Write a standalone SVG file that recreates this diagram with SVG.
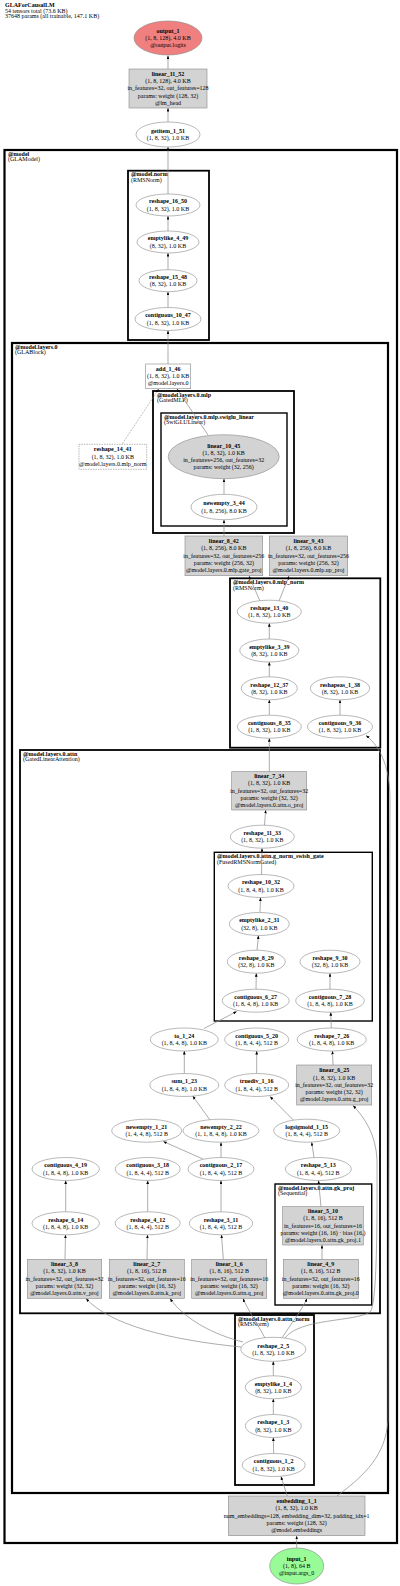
<svg xmlns="http://www.w3.org/2000/svg" width="400" height="1586" viewBox="0 0 400 1586">
<style>
text{font-family:"Liberation Serif","Times New Roman",serif;font-size:6px;fill:#000;text-anchor:middle}
.b{font-weight:bold}
.l{text-anchor:start}
.n{fill:#fff;stroke:#888;stroke-width:0.6}
.g{fill:#d3d3d3;stroke:#888;stroke-width:0.6}
.c{fill:none;stroke:#000}
.c1{stroke-width:2.2}.c2{stroke-width:1.8}.c3{stroke-width:1.4}
.e{fill:none;stroke:#888;stroke-width:0.7;marker-end:url(#a)}
</style>
<defs>
<marker id="a" viewBox="0 0 10 8" refX="10" refY="4" markerWidth="3.5" markerHeight="2.8" markerUnits="userSpaceOnUse" orient="auto"><path d="M0,0 L10,4 L0,8 z" fill="#000"/></marker>
</defs>
<rect width="400" height="1586" fill="#fff"/>
<g id="header">
<text class="l b" x="5" y="7">GLAForCausalLM</text>
<text class="l" x="5" y="12.5">54 tensors total (73.6 KB)</text>
<text class="l" x="5" y="18">37648 params (all trainable, 147.1 KB)</text>
</g>
<g id="clusters">
<rect class="c c1" x="4.5" y="150" width="392.5" height="1393"/>
<text class="l b" x="8" y="155.6">@model</text><text class="l" x="8" y="161.3">(GLAModel)</text>
<rect class="c c2" x="128" y="170.7" width="81" height="169.3"/>
<text class="l b" x="131" y="176.3">@model.norm</text><text class="l" x="131" y="182">(RMSNorm)</text>
<rect class="c c1" x="12" y="343" width="376" height="1150"/>
<text class="l b" x="15" y="348.6">@model.layers.0</text><text class="l" x="15" y="354.3">(GLABlock)</text>
<rect class="c c2" x="153" y="391" width="141" height="142"/>
<text class="l b" x="157" y="396.6">@model.layers.0.mlp</text><text class="l" x="157" y="402.3">(GatedMLP)</text>
<rect class="c c3" x="161" y="413" width="126" height="113"/>
<text class="l b" x="164" y="418.6">@model.layers.0.mlp.swiglu_linear</text><text class="l" x="164" y="424.3">(SwiGLULinear)</text>
<rect class="c c2" x="230" y="578.3" width="150.3" height="169.4"/>
<text class="l b" x="233" y="583.9">@model.layers.0.mlp_norm</text><text class="l" x="233" y="589.6">(RMSNorm)</text>
<rect class="c c2" x="20" y="750" width="360" height="563.3"/>
<text class="l b" x="23" y="755.6">@model.layers.0.attn</text><text class="l" x="23" y="761.3">(GatedLinearAttention)</text>
<rect class="c c3" x="214.3" y="852.3" width="158" height="168.7"/>
<text class="l b" x="217" y="857.9">@model.layers.0.attn.g_norm_swish_gate</text><text class="l" x="217" y="863.6">(FusedRMSNormGated)</text>
<rect class="c c3" x="275" y="1184" width="96.7" height="121"/>
<text class="l b" x="278" y="1189.6">@model.layers.0.attn.gk_proj</text><text class="l" x="278" y="1195.3">(Sequential)</text>
<rect class="c c2" x="235" y="1315" width="79" height="170"/>
<text class="l b" x="238" y="1320.6">@model.layers.0.attn_norm</text><text class="l" x="238" y="1326.3">(RMSNorm)</text>
</g>
<g id="edges">
<path class="e" d="M168,69 L168,55.5"/>
<path class="e" d="M168,122 L168,108"/>
<path class="e" d="M168,194 L168,147"/>
<path class="e" d="M168,231 L168,216"/>
<path class="e" d="M168,269.7 L168,253"/>
<path class="e" d="M168,307.5 L168,291.7"/>
<path class="e" d="M168,364 L168,330.5"/>
<path class="e" d="M208,435 L177,389"/>
<path class="e" d="M122,444.3 L158.7,389" style="stroke-dasharray:1,1"/>
<path class="e" d="M224,494.3 L224,478.7"/>
<path class="e" d="M224,536 L224,519.7"/>
<path class="e" d="M260,601 L249,576"/>
<path class="e" d="M279,601 L289,576"/>
<path class="e" d="M269.3,639 L269.3,623.2"/>
<path class="e" d="M269.3,676.8 L269.3,662"/>
<path class="e" d="M269.3,715.2 L269.3,699.8"/>
<path class="e" d="M340,715.2 L340,699.8"/>
<path class="e" d="M269.3,771.7 L269.3,738.2"/>
<path class="e" d="M264.5,825.2 L265.7,810"/>
<path class="e" d="M261.5,874.5 L262,848.2"/>
<path class="e" d="M260,912.5 L260.5,897.5"/>
<path class="e" d="M257,950.2 L258.5,935.5"/>
<path class="e" d="M256,989.2 L256.3,973.2"/>
<path class="e" d="M330,989.2 L330,973.2"/>
<path class="e" d="M204,1028.5 L236.7,1011.5"/>
<path class="e" d="M331.3,1028 L330.7,1012.2"/>
<path class="e" d="M333,1065 L332.5,1051"/>
<path class="e" d="M184.3,1073.5 L184.3,1051"/>
<path class="e" d="M256.7,1073.5 L256.7,1051"/>
<path class="e" d="M210,1120 L192.7,1096"/>
<path class="e" d="M293.3,1120 L270,1096.5"/>
<path class="e" d="M203,1159 L163.3,1141.5"/>
<path class="e" d="M221,1157.5 L221,1142.2"/>
<path class="e" d="M314,1157.5 L311.7,1142.2"/>
<path class="e" d="M65.7,1211.8 L65.7,1180.5"/>
<path class="e" d="M147.7,1211.8 L147.7,1180.5"/>
<path class="e" d="M221,1211.8 L221,1180.5"/>
<path class="e" d="M65,1259.3 L65.5,1234.8"/>
<path class="e" d="M147,1259.3 L147.5,1234.8"/>
<path class="e" d="M223.3,1259.3 L221.5,1234.8"/>
<path class="e" d="M321,1206.7 L318.5,1180.5"/>
<path class="e" d="M322,1259.3 L322,1245"/>
<path class="e" d="M241,1347 C170,1340 110,1325 86,1298.5"/>
<path class="e" d="M243,1342 C215,1335 185,1320 170,1298.5"/>
<path class="e" d="M265,1338 C258,1325 248,1310 243,1298.5"/>
<path class="e" d="M282,1338 C290,1325 302,1310 307,1298.5"/>
<path class="e" d="M285,1338 C300,1318 355,1322 370,1312 C378,1305 377,1200 377,1160 C376,1135 365,1118 353,1105.5"/>
<path class="e" d="M273.3,1375.8 L273.3,1361.3"/>
<path class="e" d="M273.3,1414.5 L273.3,1398.8"/>
<path class="e" d="M273.7,1453.5 L273.3,1437.5"/>
<path class="e" d="M287.3,1496 L281,1476.5"/>
<path class="e" d="M337,1496 C365,1475 386,1455 388,1420 L390,800 C390,770 382,748 366,735.5"/>
<path class="e" d="M296.7,1548 L296.7,1535.9"/>
</g>
<g id="output_1"><ellipse cx="168" cy="38" rx="34" ry="17" fill="#f08080" stroke="#888" stroke-width="0.6"/>
<text class="b" x="168" y="32.5">output_1</text><text x="168" y="39.8">(1, 8, 128), 4.0 KB</text><text x="168" y="47.1">@output.logits</text></g>
<g id="linear_11_52"><rect class="g" x="129" y="69" width="78" height="39"/>
<text class="b" x="168" y="75.7">linear_11_52</text><text x="168" y="83">(1, 8, 128), 4.0 KB</text><text x="168" y="90.3">in_features=32, out_features=128</text><text x="168" y="97.6">params: weight (128, 32)</text><text x="168" y="104.9">@lm_head</text></g>
<g id="getitem_1_51"><ellipse class="n" cx="168" cy="134.5" rx="32" ry="12.5"/>
<text class="b" x="168" y="132.7">getitem_1_51</text><text x="168" y="140">(1, 8, 32), 1.0 KB</text></g>
<g id="reshape_16_50"><ellipse class="n" cx="168" cy="205" rx="32" ry="11"/>
<text class="b" x="168" y="203.2">reshape_16_50</text><text x="168" y="210.5">(1, 8, 32), 1.0 KB</text></g>
<g id="emptylike_4_49"><ellipse class="n" cx="168" cy="242" rx="31" ry="11"/>
<text class="b" x="168" y="240.2">emptylike_4_49</text><text x="168" y="247.5">(8, 32), 1.0 KB</text></g>
<g id="reshape_15_48"><ellipse class="n" cx="168" cy="280.7" rx="29" ry="11"/>
<text class="b" x="168" y="278.9">reshape_15_48</text><text x="168" y="286.2">(8, 32), 1.0 KB</text></g>
<g id="contiguous_10_47"><ellipse class="n" cx="168" cy="319" rx="33" ry="11.5"/>
<text class="b" x="168" y="317.2">contiguous_10_47</text><text x="168" y="324.5">(1, 8, 32), 1.0 KB</text></g>
<g id="add_1_46"><rect class="n" x="145.7" y="364" width="45" height="24.7"/>
<text class="b" x="168.2" y="370.8">add_1_46</text><text x="168.2" y="378.1">(1, 8, 32), 1.0 KB</text><text x="168.2" y="385.4">@model.layers.0</text></g>
<g id="reshape_14_41"><rect class="n" x="79" y="444.3" width="67.7" height="25" style="stroke-dasharray:1.5,1"/>
<text class="b" x="112.8" y="451.3">reshape_14_41</text><text x="112.8" y="458.6">(1, 8, 32), 1.0 KB</text><text x="112.8" y="465.9">@model.layers.0.mlp_norm</text></g>
<g id="linear_10_45"><ellipse class="g" cx="223.7" cy="456.7" rx="55.5" ry="22"/>
<text class="b" x="223.7" y="447.5">linear_10_45</text><text x="223.7" y="454.8">(1, 8, 32), 1.0 KB</text><text x="223.7" y="462.1">in_features=256, out_features=32</text><text x="223.7" y="469.4">params: weight (32, 256)</text></g>
<g id="newempty_3_44"><ellipse class="n" cx="224" cy="507" rx="33" ry="12.7"/>
<text class="b" x="224" y="505.2">newempty_3_44</text><text x="224" y="512.5">(1, 8, 256), 8.0 KB</text></g>
<g id="linear_8_42"><rect class="g" x="185" y="536" width="77.7" height="39.7"/>
<text class="b" x="223.8" y="543">linear_8_42</text><text x="223.8" y="550.3">(1, 8, 256), 8.0 KB</text><text x="223.8" y="557.6">in_features=32, out_features=256</text><text x="223.8" y="564.9">params: weight (256, 32)</text><text x="223.8" y="572.2">@model.layers.0.mlp.gate_proj</text></g>
<g id="linear_9_43"><rect class="g" x="269.3" y="536" width="78.4" height="39.7"/>
<text class="b" x="308.5" y="543">linear_9_43</text><text x="308.5" y="550.3">(1, 8, 256), 8.0 KB</text><text x="308.5" y="557.6">in_features=32, out_features=256</text><text x="308.5" y="564.9">params: weight (256, 32)</text><text x="308.5" y="572.2">@model.layers.0.mlp.up_proj</text></g>
<g id="reshape_13_40"><ellipse class="n" cx="269.3" cy="611.7" rx="32" ry="11.5"/>
<text class="b" x="269.3" y="609.9">reshape_13_40</text><text x="269.3" y="617.2">(1, 8, 32), 1.0 KB</text></g>
<g id="emptylike_3_39"><ellipse class="n" cx="269.3" cy="650.5" rx="29.5" ry="11.5"/>
<text class="b" x="269.3" y="648.7">emptylike_3_39</text><text x="269.3" y="656">(8, 32), 1.0 KB</text></g>
<g id="reshape_12_37"><ellipse class="n" cx="269.3" cy="688.3" rx="28" ry="11.5"/>
<text class="b" x="269.3" y="686.5">reshape_12_37</text><text x="269.3" y="693.8">(8, 32), 1.0 KB</text></g>
<g id="reshapeas_1_38"><ellipse class="n" cx="340" cy="688.3" rx="29.7" ry="11.5"/>
<text class="b" x="340" y="686.5">reshapeas_1_38</text><text x="340" y="693.8">(8, 32), 1.0 KB</text></g>
<g id="contiguous_8_35"><ellipse class="n" cx="269.3" cy="726.7" rx="32" ry="11.5"/>
<text class="b" x="269.3" y="724.9">contiguous_8_35</text><text x="269.3" y="732.2">(1, 8, 32), 1.0 KB</text></g>
<g id="contiguous_9_36"><ellipse class="n" cx="340" cy="726.7" rx="32.5" ry="11.5"/>
<text class="b" x="340" y="724.9">contiguous_9_36</text><text x="340" y="732.2">(1, 8, 32), 1.0 KB</text></g>
<g id="linear_7_34"><rect class="g" x="231.7" y="771.7" width="75" height="38.3"/>
<text class="b" x="269.2" y="778">linear_7_34</text><text x="269.2" y="785.3">(1, 8, 32), 1.0 KB</text><text x="269.2" y="792.6">in_features=32, out_features=32</text><text x="269.2" y="799.9">params: weight (32, 32)</text><text x="269.2" y="807.2">@model.layers.0.attn.o_proj</text></g>
<g id="reshape_11_33"><ellipse class="n" cx="262.3" cy="836.7" rx="32" ry="11.5"/>
<text class="b" x="262.3" y="834.9">reshape_11_33</text><text x="262.3" y="842.2">(1, 8, 32), 1.0 KB</text></g>
<g id="reshape_10_32"><ellipse class="n" cx="261" cy="886" rx="33" ry="11.5"/>
<text class="b" x="261" y="884.2">reshape_10_32</text><text x="261" y="891.5">(1, 8, 4, 8), 1.0 KB</text></g>
<g id="emptylike_2_31"><ellipse class="n" cx="259.3" cy="924" rx="30" ry="11.5"/>
<text class="b" x="259.3" y="922.2">emptylike_2_31</text><text x="259.3" y="929.5">(32, 8), 1.0 KB</text></g>
<g id="reshape_8_29"><ellipse class="n" cx="256.3" cy="961.7" rx="29" ry="11.5"/>
<text class="b" x="256.3" y="959.9">reshape_8_29</text><text x="256.3" y="967.2">(32, 8), 1.0 KB</text></g>
<g id="reshape_9_30"><ellipse class="n" cx="330" cy="961.7" rx="30" ry="11.5"/>
<text class="b" x="330" y="959.9">reshape_9_30</text><text x="330" y="967.2">(32, 8), 1.0 KB</text></g>
<g id="contiguous_6_27"><ellipse class="n" cx="255.7" cy="1000.7" rx="33.5" ry="11.5"/>
<text class="b" x="255.7" y="998.9">contiguous_6_27</text><text x="255.7" y="1006.2">(1, 8, 4, 8), 1.0 KB</text></g>
<g id="contiguous_7_28"><ellipse class="n" cx="330" cy="1000.7" rx="34.3" ry="11.5"/>
<text class="b" x="330" y="998.9">contiguous_7_28</text><text x="330" y="1006.2">(1, 8, 4, 8), 1.0 KB</text></g>
<g id="to_1_24"><ellipse class="n" cx="184.3" cy="1039.5" rx="34" ry="11.5"/>
<text class="b" x="184.3" y="1037.7">to_1_24</text><text x="184.3" y="1045">(1, 8, 4, 8), 1.0 KB</text></g>
<g id="contiguous_5_20"><ellipse class="n" cx="256.7" cy="1039.5" rx="32" ry="11.5"/>
<text class="b" x="256.7" y="1037.7">contiguous_5_20</text><text x="256.7" y="1045">(1, 8, 4, 4), 512 B</text></g>
<g id="reshape_7_26"><ellipse class="n" cx="331.7" cy="1039.5" rx="34.5" ry="11.5"/>
<text class="b" x="331.7" y="1037.7">reshape_7_26</text><text x="331.7" y="1045">(1, 8, 4, 8), 1.0 KB</text></g>
<g id="sum_1_23"><ellipse class="n" cx="184.3" cy="1085" rx="34.5" ry="11.5"/>
<text class="b" x="184.3" y="1083.2">sum_1_23</text><text x="184.3" y="1090.5">(1, 8, 4, 8), 1.0 KB</text></g>
<g id="truediv_1_16"><ellipse class="n" cx="256.7" cy="1085" rx="32" ry="11.5"/>
<text class="b" x="256.7" y="1083.2">truediv_1_16</text><text x="256.7" y="1090.5">(1, 8, 4, 4), 512 B</text></g>
<g id="linear_6_25"><rect class="g" x="296.7" y="1065" width="75" height="40"/>
<text class="b" x="334.2" y="1072.2">linear_6_25</text><text x="334.2" y="1079.5">(1, 8, 32), 1.0 KB</text><text x="334.2" y="1086.8">in_features=32, out_features=32</text><text x="334.2" y="1094.1">params: weight (32, 32)</text><text x="334.2" y="1101.4">@model.layers.0.attn.g_proj</text></g>
<g id="newempty_1_21"><ellipse class="n" cx="146.7" cy="1130.7" rx="35" ry="11.5"/>
<text class="b" x="146.7" y="1128.9">newempty_1_21</text><text x="146.7" y="1136.2">(1, 4, 4, 8), 512 B</text></g>
<g id="newempty_2_22"><ellipse class="n" cx="221" cy="1130.7" rx="38" ry="11.5"/>
<text class="b" x="221" y="1128.9">newempty_2_22</text><text x="221" y="1136.2">(1, 1, 8, 4, 8), 1.0 KB</text></g>
<g id="logsigmoid_1_15"><ellipse class="n" cx="306.7" cy="1130.7" rx="33" ry="11.5"/>
<text class="b" x="306.7" y="1128.9">logsigmoid_1_15</text><text x="306.7" y="1136.2">(1, 8, 4, 4), 512 B</text></g>
<g id="contiguous_4_19"><ellipse class="n" cx="65.7" cy="1169" rx="33.7" ry="11.5"/>
<text class="b" x="65.7" y="1167.2">contiguous_4_19</text><text x="65.7" y="1174.5">(1, 8, 4, 8), 1.0 KB</text></g>
<g id="contiguous_3_18"><ellipse class="n" cx="147.7" cy="1169" rx="32.5" ry="11.5"/>
<text class="b" x="147.7" y="1167.2">contiguous_3_18</text><text x="147.7" y="1174.5">(1, 8, 4, 4), 512 B</text></g>
<g id="contiguous_2_17"><ellipse class="n" cx="221" cy="1169" rx="33" ry="11.5"/>
<text class="b" x="221" y="1167.2">contiguous_2_17</text><text x="221" y="1174.5">(1, 8, 4, 4), 512 B</text></g>
<g id="reshape_5_13"><ellipse class="n" cx="318.3" cy="1169" rx="33" ry="11.5"/>
<text class="b" x="318.3" y="1167.2">reshape_5_13</text><text x="318.3" y="1174.5">(1, 8, 4, 4), 512 B</text></g>
<g id="reshape_6_14"><ellipse class="n" cx="65.7" cy="1223.3" rx="33.7" ry="11.5"/>
<text class="b" x="65.7" y="1221.5">reshape_6_14</text><text x="65.7" y="1228.8">(1, 8, 4, 8), 1.0 KB</text></g>
<g id="reshape_4_12"><ellipse class="n" cx="147.7" cy="1223.3" rx="32.5" ry="11.5"/>
<text class="b" x="147.7" y="1221.5">reshape_4_12</text><text x="147.7" y="1228.8">(1, 8, 4, 4), 512 B</text></g>
<g id="reshape_3_11"><ellipse class="n" cx="221" cy="1223.3" rx="31.7" ry="11.5"/>
<text class="b" x="221" y="1221.5">reshape_3_11</text><text x="221" y="1228.8">(1, 8, 4, 4), 512 B</text></g>
<g id="linear_5_10"><rect class="g" x="282.7" y="1206.7" width="80.6" height="38.3"/>
<text class="b" x="323" y="1213">linear_5_10</text><text x="323" y="1220.3">(1, 8, 16), 512 B</text><text x="323" y="1227.6">in_features=16, out_features=16</text><text x="323" y="1234.9">params: weight (16, 16) · bias (16,)</text><text x="323" y="1242.2">@model.layers.0.attn.gk_proj.1</text></g>
<g id="linear_3_8"><rect class="g" x="27.3" y="1259.3" width="74.4" height="39"/>
<text class="b" x="64.5" y="1266">linear_3_8</text><text x="64.5" y="1273.3">(1, 8, 32), 1.0 KB</text><text x="64.5" y="1280.6">in_features=32, out_features=32</text><text x="64.5" y="1287.9">params: weight (32, 32)</text><text x="64.5" y="1295.2">@model.layers.0.attn.v_proj</text></g>
<g id="linear_2_7"><rect class="g" x="109.3" y="1259.3" width="75" height="39"/>
<text class="b" x="146.8" y="1266">linear_2_7</text><text x="146.8" y="1273.3">(1, 8, 16), 512 B</text><text x="146.8" y="1280.6">in_features=32, out_features=16</text><text x="146.8" y="1287.9">params: weight (16, 32)</text><text x="146.8" y="1295.2">@model.layers.0.attn.k_proj</text></g>
<g id="linear_1_6"><rect class="g" x="191.7" y="1259.3" width="75" height="39"/>
<text class="b" x="229.2" y="1266">linear_1_6</text><text x="229.2" y="1273.3">(1, 8, 16), 512 B</text><text x="229.2" y="1280.6">in_features=32, out_features=16</text><text x="229.2" y="1287.9">params: weight (16, 32)</text><text x="229.2" y="1295.2">@model.layers.0.attn.q_proj</text></g>
<g id="linear_4_9"><rect class="g" x="283.3" y="1259.3" width="75" height="39"/>
<text class="b" x="320.8" y="1266">linear_4_9</text><text x="320.8" y="1273.3">(1, 8, 16), 512 B</text><text x="320.8" y="1280.6">in_features=32, out_features=16</text><text x="320.8" y="1287.9">params: weight (16, 32)</text><text x="320.8" y="1295.2">@model.layers.0.attn.gk_proj.0</text></g>
<g id="reshape_2_5"><ellipse class="n" cx="273.3" cy="1349.3" rx="32.5" ry="12"/>
<text class="b" x="273.3" y="1347.5">reshape_2_5</text><text x="273.3" y="1354.8">(1, 8, 32), 1.0 KB</text></g>
<g id="emptylike_1_4"><ellipse class="n" cx="273.3" cy="1387.3" rx="28" ry="11.5"/>
<text class="b" x="273.3" y="1385.5">emptylike_1_4</text><text x="273.3" y="1392.8">(8, 32), 1.0 KB</text></g>
<g id="reshape_1_3"><ellipse class="n" cx="273.3" cy="1426" rx="28" ry="11.5"/>
<text class="b" x="273.3" y="1424.2">reshape_1_3</text><text x="273.3" y="1431.5">(8, 32), 1.0 KB</text></g>
<g id="contiguous_1_2"><ellipse class="n" cx="273.7" cy="1465" rx="31.5" ry="11.5"/>
<text class="b" x="273.7" y="1463.2">contiguous_1_2</text><text x="273.7" y="1470.5">(1, 8, 32), 1.0 KB</text></g>
<g id="embedding_1_1"><rect class="g" x="228.3" y="1496" width="136.7" height="39.7"/>
<text class="b" x="296.7" y="1503">embedding_1_1</text><text x="296.7" y="1510.3">(1, 8, 32), 1.0 KB</text><text x="296.7" y="1517.6">num_embeddings=128, embedding_dim=32, padding_idx=1</text><text x="296.7" y="1524.9">params: weight (128, 32)</text><text x="296.7" y="1532.2">@model.embeddings</text></g>
<g id="input_1"><ellipse cx="296.7" cy="1566" rx="27" ry="18" fill="#98fb98" stroke="#888" stroke-width="0.6"/>
<text class="b" x="296.7" y="1560.5">input_1</text><text x="296.7" y="1567.8">(1, 8), 64 B</text><text x="296.7" y="1575.1">@input.args_0</text></g>
</svg>
